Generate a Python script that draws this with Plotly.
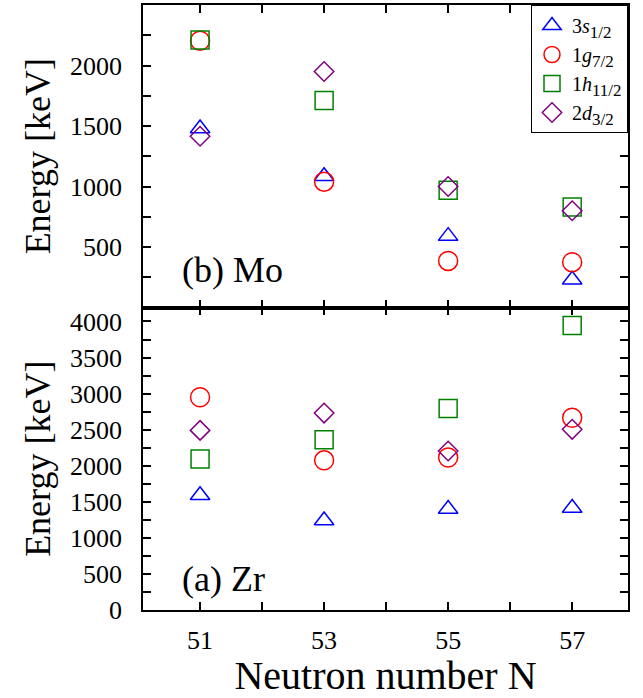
import plotly.graph_objects as go
from plotly.subplots import make_subplots

# Neutron numbers
N = [51, 53, 55, 57]

# Mo energies (keV) - panel (b)
mo_3s = [1480, 1085, 590, 230]
mo_1g = [2205, 1040, 385, 375]
mo_1h = [2210, 1710, 970, 830]
mo_2d = [1415, 1950, 1000, 800]

# Zr energies (keV) - panel (a)
zr_3s = [1590, 1240, 1400, 1415]
zr_1g = [2950, 2075, 2115, 2665]
zr_1h = [2095, 2360, 2795, 3945]
zr_2d = [2490, 2730, 2205, 2505]

SUB = "<sub><span style='font-size:17px'>{}</span></sub>"
labels = ["3<i>s</i>" + SUB.format("1/2"), "1<i>g</i>" + SUB.format("7/2"),
          "1<i>h</i>" + SUB.format("11/2"), "2<i>d</i>" + SUB.format("3/2")]
colors = ["#0000ff", "#ff0000", "#008000", "#800080"]
symbols = ["triangle-up-open", "circle-open", "square-open", "diamond-open"]
sizes = [17, 19, 18, 15]

x_ticks = [51, 52, 53, 54, 55, 56, 57]
x_ticktext = ["51", "", "53", "", "55", "", "57"]

FONT = "Liberation Serif"

fig = make_subplots(rows=2, cols=1, shared_xaxes=True, vertical_spacing=0)

mo = [mo_3s, mo_1g, mo_1h, mo_2d]
zr = [zr_3s, zr_1g, zr_1h, zr_2d]
for i in range(4):
    mk = dict(symbol=symbols[i], size=sizes[i], color=colors[i],
              line=dict(width=1.5, color=colors[i]))
    fig.add_trace(go.Scatter(x=N, y=mo[i], mode="markers", name=labels[i],
                             marker=mk, showlegend=True), row=1, col=1)
    fig.add_trace(go.Scatter(x=N, y=zr[i], mode="markers", name=labels[i],
                             marker=mk, showlegend=False), row=2, col=1)

axis_common = dict(showline=True, linecolor="black", linewidth=1.5, mirror="allticks",
                   ticks="inside", ticklen=8, tickwidth=1.5, tickcolor="black",
                   showgrid=False, zeroline=False, automargin=False,
                   tickfont=dict(family=FONT, size=26, color="black"))

# x axes
fig.update_xaxes(range=[50.08, 57.9], tickmode="array", tickvals=x_ticks,
                 ticktext=x_ticktext, **axis_common)
fig.update_xaxes(showticklabels=False, row=1, col=1)
fig.update_xaxes(ticklabelstandoff=6,
                 title=dict(text="Neutron number N", font=dict(family=FONT, size=40, color="black"),
                            standoff=12),
                 row=2, col=1)

# y axes
top_vals = list(range(250, 2500, 250))
top_text = [str(v) if v % 500 == 0 else "" for v in top_vals]
bot_vals = list(range(0, 4250, 250))
bot_text = [str(v) if v % 500 == 0 else "" for v in bot_vals]

ytitle = dict(text="Energy [keV]", font=dict(family=FONT, size=36, color="black"), standoff=8)
fig.update_yaxes(range=[0, 2500], tickmode="array", tickvals=top_vals, ticktext=top_text,
                 ticklabelstandoff=14, title=ytitle, **axis_common, row=1, col=1)
fig.update_yaxes(range=[0, 4194], tickmode="array", tickvals=bot_vals, ticktext=bot_text,
                 ticklabelstandoff=14, title=ytitle, **axis_common, row=2, col=1)

fig.add_annotation(text="(b) Mo", xref="paper", yref="paper", x=0.076, y=0.562,
                   xanchor="left", yanchor="middle", showarrow=False,
                   font=dict(family=FONT, size=36, color="black"))
fig.add_annotation(text="(a) Zr", xref="paper", yref="paper", x=0.076, y=0.051,
                   xanchor="left", yanchor="middle", showarrow=False,
                   font=dict(family=FONT, size=36, color="black"))

fig.update_layout(
    width=643, height=698,
    margin=dict(l=143, r=15, t=5, b=88),
    plot_bgcolor="white", paper_bgcolor="white",
    font=dict(family=FONT, color="black"),
    legend=dict(x=1, y=1, xanchor="right", yanchor="top", bordercolor="black",
                borderwidth=1, bgcolor="white",
                font=dict(family=FONT, size=20, color="black"), tracegroupgap=0),
)

fig.write_html("out.html")
